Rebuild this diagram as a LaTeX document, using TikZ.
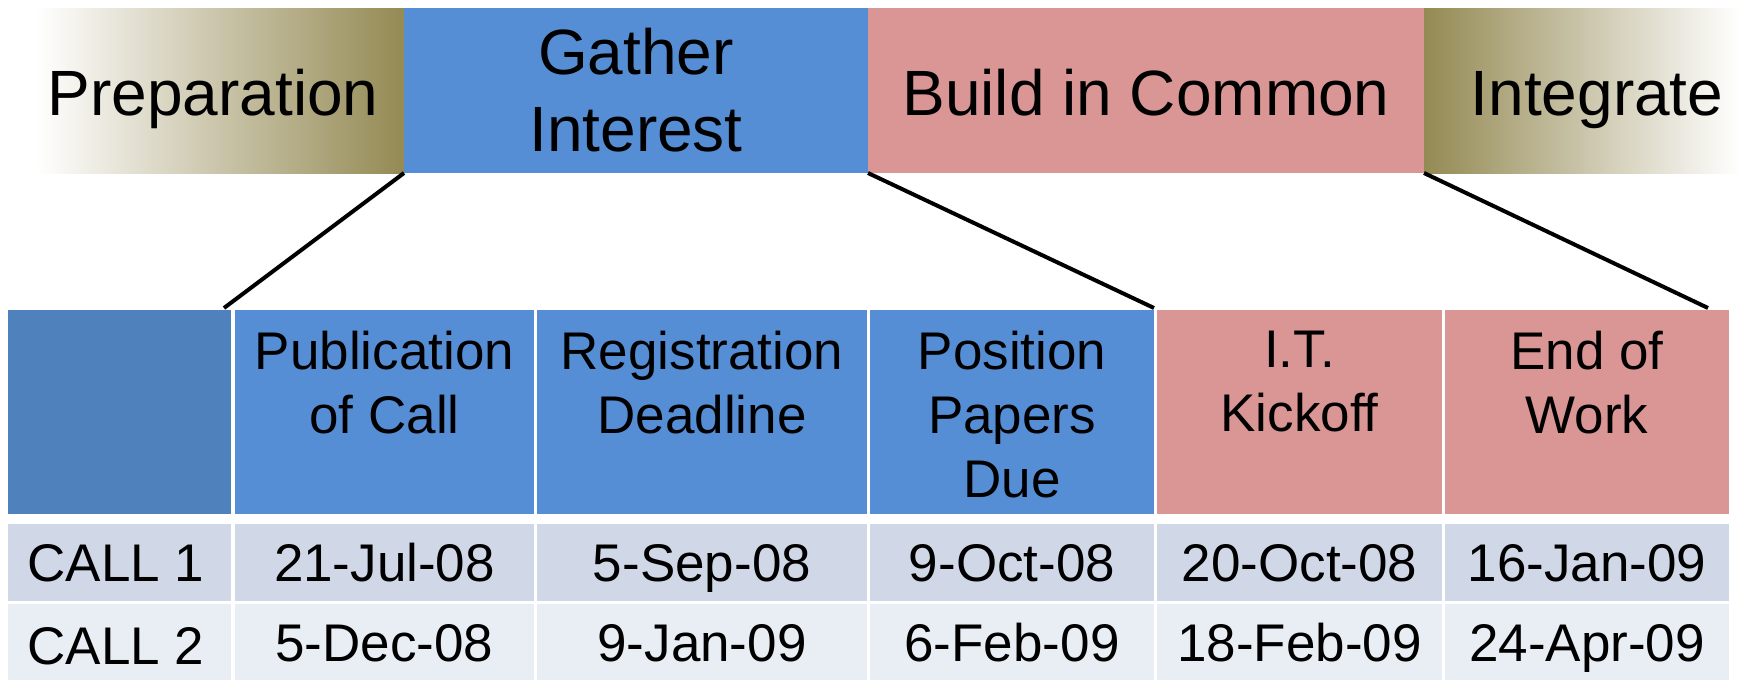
\documentclass[tikz,border=0pt]{standalone}
\usepackage{fontspec}
\setmainfont{Liberation Sans}
\definecolor{hblue}{HTML}{558ED5}
\definecolor{hdark}{HTML}{4F81BD}
\definecolor{hpink}{HTML}{D99694}
\definecolor{rowa}{HTML}{D0D8E8}
\definecolor{rowb}{HTML}{E9EDF4}
\definecolor{olive}{HTML}{948A54}
\newcommand\mybox[7]{\node[box,#6,minimum width={(#4-#2)*0.5pt},minimum height={(#5-#3)*0.5pt}] (#1) at (#2,#3) {#7};}
\begin{document}
\begin{tikzpicture}[x=0.5pt,y=-0.5pt,
  box/.style={draw=none, inner sep=0pt, outer sep=0pt, anchor=north west},
  bigfont/.style={font=\fontsize{32pt}{38.5pt}\selectfont},
  cellfont/.style={font=\fontsize{26.5pt}{32pt}\selectfont},
  bigcap/.style={text height=22.9pt, text depth=0pt},
  capbox/.style={text height=19pt, text depth=0pt},
  hdtext/.style={cellfont, align=center, inner sep=0pt, anchor=north},
  calltext/.style={cellfont, capbox, inner sep=0pt, anchor=west},
  link/.style={line width=2pt, black},
]
\useasboundingbox (0,0) rectangle (1742,680);
% top phases
\mybox{prep}{36}{8}{404}{173}{left color=white, right color=olive}{}
\mybox{gather}{404}{8}{868}{173}{fill=hblue, bigfont, align=center}{Gather\\Interest}
\mybox{build}{868}{8}{1424}{173}{fill=hpink}{}
\mybox{integ}{1424}{8}{1740}{173}{left color=olive, right color=white}{}
\node[bigfont, bigcap, inner sep=0pt] (preptext) at (213,92.5) {Preparation};
\node[bigfont, bigcap, inner sep=0pt] (buildtext) at (1146,92.5) {Build in Common};
\node[bigfont, bigcap, inner sep=0pt] (integtext) at (1597,92.5) {Integrate};
% header row
\mybox{h0}{8}{310}{231}{514}{fill=hdark}{}
\mybox{h1}{235}{310}{534}{514}{fill=hblue}{}
\mybox{h2}{537}{310}{867}{514}{fill=hblue}{}
\mybox{h3}{870}{310}{1154}{514}{fill=hblue}{}
\mybox{h4}{1157}{310}{1442}{514}{fill=hpink}{}
\mybox{h5}{1445}{310}{1729}{514}{fill=hpink}{}
\node[hdtext] (t1) at (384.5,331) {Publication\\of Call};
\node[hdtext] (t2) at (702,331) {Registration\\Deadline};
\node[hdtext] (t3) at (1012,331) {Position\\Papers\\Due};
\node[hdtext] (t4) at (1299.5,331) {I.T.\\Kickoff};
\node[hdtext] (t5) at (1587,331) {End of\\Work};
% row 1
\mybox{a0}{8}{524}{231}{601}{fill=rowa}{}
\mybox{a1}{235}{524}{534}{601}{fill=rowa, cellfont, capbox}{21-Jul-08}
\mybox{a2}{537}{524}{867}{601}{fill=rowa, cellfont, capbox}{5-Sep-08}
\mybox{a3}{870}{524}{1154}{601}{fill=rowa, cellfont, capbox}{9-Oct-08}
\mybox{a4}{1157}{524}{1442}{601}{fill=rowa, cellfont, capbox}{20-Oct-08}
\mybox{a5}{1445}{524}{1729}{601}{fill=rowa, cellfont, capbox}{16-Jan-09}
\node[calltext] (c1) at (27,562.5) {CALL 1};
% row 2
\mybox{b0}{8}{604}{231}{680}{fill=rowb}{}
\mybox{b1}{235}{604}{534}{680}{fill=rowb, cellfont, capbox}{5-Dec-08}
\mybox{b2}{537}{604}{867}{680}{fill=rowb, cellfont, capbox}{9-Jan-09}
\mybox{b3}{870}{604}{1154}{680}{fill=rowb, cellfont, capbox}{6-Feb-09}
\mybox{b4}{1157}{604}{1442}{680}{fill=rowb, cellfont, capbox}{18-Feb-09}
\mybox{b5}{1445}{604}{1729}{680}{fill=rowb, cellfont, capbox}{24-Apr-09}
\node[calltext] (c2) at (27,645) {CALL 2};
% connectors
\coordinate (e1) at (224,308);
\coordinate (e2) at (1154,308);
\coordinate (e3) at (1708,308);
\draw[link] (gather.south west) -- (e1);
\draw[link] (gather.south east) -- (e2);
\draw[link] (build.south east) -- (e3);
\end{tikzpicture}
\end{document}
